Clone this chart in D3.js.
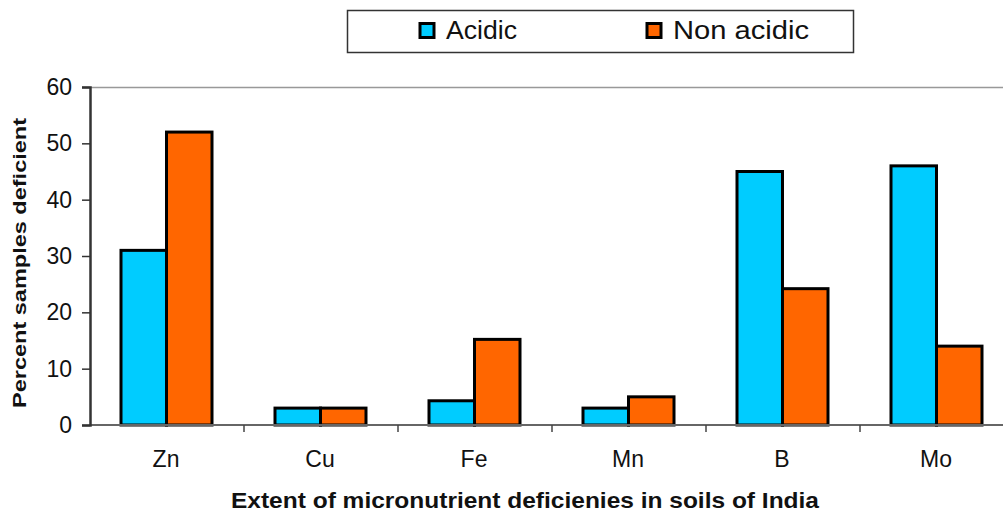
<!DOCTYPE html>
<html>
<head>
<meta charset="utf-8">
<script src="https://cdn.jsdelivr.net/npm/d3@7"></script>
<style>
  body { margin: 0; background: #fff; }
  svg { display: block; font-family: "Liberation Sans", Arial, sans-serif; }
</style>
</head>
<body>
<div id="chart"></div>
<script>
var width = 1003;
var height = 514;

// data
var categories = ["Zn", "Cu", "Fe", "Mn", "B", "Mo"];
var seriesNames = ["Acidic", "Non acidic"];
var acidic = [31, 3, 4.3, 3, 45, 46];
var nonAcidic = [52, 3, 15.2, 5, 24.2, 14];
var yTicks = [0, 10, 20, 30, 40, 50, 60];
var colors = ["#00ccff", "#ff6600"];

var margin = { top: 87, left: 90 };
var plotW = 924; // plot runs past the right edge of the frame
var plotH = 338;

var svg = d3.select("#chart").append("svg")
  .attr("width", width)
  .attr("height", height);

var g = svg.append("g")
  .attr("transform", "translate(" + margin.left + "," + margin.top + ")");

var x = d3.scaleBand().domain(categories).range([0, plotW]).paddingInner(0).paddingOuter(0);
var x1 = d3.scaleBand().domain(seriesNames).range([31, x.bandwidth() - 32]);
var y = d3.scaleLinear().domain([0, 60]).range([plotH, 0]);

// top border of plot area
g.append("line")
  .attr("x1", 0).attr("x2", plotW)
  .attr("y1", 0.5).attr("y2", 0.5)
  .attr("stroke", "#999").attr("stroke-width", 1.5);

// bars
var rows = categories.map(function (c, i) {
  return [{ cat: c, s: seriesNames[0], v: acidic[i] }, { cat: c, s: seriesNames[1], v: nonAcidic[i] }];
});

g.selectAll("g.grp")
  .data(rows)
  .enter().append("g")
  .attr("class", "grp")
  .attr("transform", function (d) { return "translate(" + x(d[0].cat) + ",0)"; })
  .selectAll("rect")
  .data(function (d) { return d; })
  .enter().append("rect")
  .attr("x", function (d) { return x1(d.s); })
  .attr("width", x1.bandwidth())
  .attr("y", function (d) { return y(d.v); })
  .attr("height", function (d) { return plotH - y(d.v); })
  .attr("fill", function (d, i) { return colors[i]; })
  .attr("stroke", "#000")
  .attr("stroke-width", 3);

// x axis
var xAxis = g.append("g")
  .attr("transform", "translate(0," + plotH + ")");
xAxis.append("line")
  .attr("x1", 0).attr("x2", plotW)
  .attr("stroke", "#666").attr("stroke-width", 2);
xAxis.selectAll("line.tk")
  .data(categories.slice(1))
  .enter().append("line")
  .attr("class", "tk")
  .attr("x1", function (d) { return x(d); })
  .attr("x2", function (d) { return x(d); })
  .attr("y1", 0).attr("y2", 7)
  .attr("stroke", "#444").attr("stroke-width", 1.5);
xAxis.selectAll("text")
  .data(categories)
  .enter().append("text")
  .attr("x", function (d) { return x(d) + x.bandwidth() / 2 - 1; })
  .attr("y", 42)
  .attr("text-anchor", "middle")
  .attr("font-size", 23)
  .attr("fill", "#111")
  .text(function (d) { return d; });

// y axis
var yAxis = g.append("g")
  .call(d3.axisLeft(y).tickValues(yTicks).tickSize(8).tickPadding(10).tickFormat(d3.format("d")));
yAxis.select(".domain").attr("stroke", "#333").attr("stroke-width", 2.5);
yAxis.selectAll(".tick line").attr("stroke", "#333").attr("stroke-width", 1.5);
yAxis.selectAll(".tick text")
  .attr("font-size", 23)
  .attr("fill", "#111")
  .attr("font-family", "Liberation Sans, Arial, sans-serif");

// axis titles
svg.append("text")
  .attr("transform", "translate(26,263) rotate(-90)")
  .attr("text-anchor", "middle")
  .attr("font-size", 19)
  .attr("font-weight", "bold")
  .attr("fill", "#111")
  .attr("textLength", 290)
  .attr("lengthAdjust", "spacingAndGlyphs")
  .text("Percent samples deficient");

svg.append("text")
  .attr("x", 525)
  .attr("y", 508)
  .attr("text-anchor", "middle")
  .attr("font-size", 22)
  .attr("font-weight", "bold")
  .attr("fill", "#111")
  .attr("textLength", 588)
  .attr("lengthAdjust", "spacingAndGlyphs")
  .text("Extent of micronutrient deficienies in soils of India");

// legend
var legend = svg.append("g");
legend.append("rect")
  .attr("x", 347.5).attr("y", 10.5)
  .attr("width", 506).attr("height", 42)
  .attr("fill", "#fff").attr("stroke", "#333").attr("stroke-width", 1.5);

var legendX = [420, 647];
var legendLen = [71, 136];
var items = legend.selectAll("g.item")
  .data(seriesNames)
  .enter().append("g")
  .attr("class", "item")
  .attr("transform", function (d, i) { return "translate(" + legendX[i] + ",23.5)"; });
items.append("rect")
  .attr("width", 14).attr("height", 14)
  .attr("fill", function (d, i) { return colors[i]; })
  .attr("stroke", "#000").attr("stroke-width", 3);
items.append("text")
  .attr("x", 26).attr("y", 15)
  .attr("font-size", 25)
  .attr("fill", "#111")
  .attr("textLength", function (d, i) { return legendLen[i]; })
  .attr("lengthAdjust", "spacingAndGlyphs")
  .text(function (d) { return d; });
</script>
</body>
</html>
